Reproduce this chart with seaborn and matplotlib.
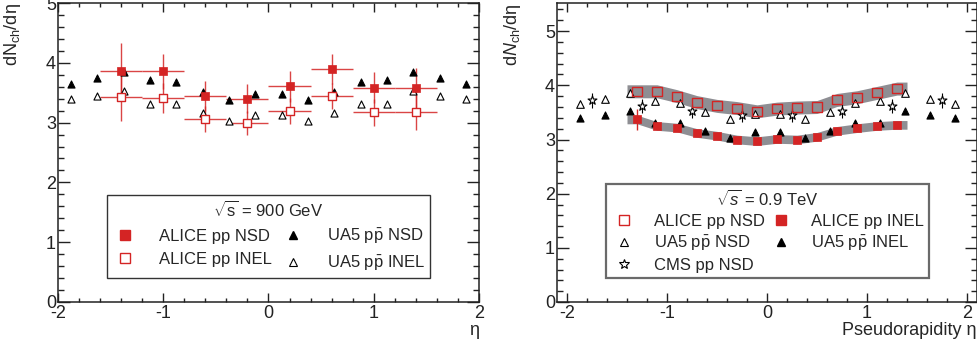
import numpy as np
import pandas as pd
import matplotlib
matplotlib.use("Agg")
import matplotlib.pyplot as plt
import seaborn as sns
from matplotlib.ticker import MultipleLocator
from matplotlib.lines import Line2D

# dados lidos da figura
# painel esquerdo: ALICE 900 GeV (bins de 0.4)
eta_alice_l = [-1.4, -1.0, -0.6, -0.2, 0.2, 0.6, 1.0, 1.4]
alice_nsd_l = [3.87, 3.86, 3.45, 3.40, 3.61, 3.90, 3.58, 3.58]
alice_nsd_l_err = [0.46, 0.29, 0.25, 0.24, 0.26, 0.25, 0.26, 0.33]
alice_inel_l = [3.42, 3.41, 3.06, 3.00, 3.19, 3.44, 3.17, 3.17]
alice_inel_l_err = [0.40, 0.25, 0.22, 0.20, 0.22, 0.22, 0.23, 0.29]

# UA5 (mesmos pontos nos dois painéis)
eta_ua5 = [-1.875, -1.625, -1.375, -1.125, -0.875, -0.625, -0.375, -0.125,
           0.125, 0.375, 0.625, 0.875, 1.125, 1.375, 1.625, 1.875]
ua5_nsd = [3.65, 3.74, 3.85, 3.71, 3.68, 3.51, 3.37, 3.47,
           3.47, 3.37, 3.51, 3.68, 3.71, 3.85, 3.74, 3.65]
ua5_inel = [3.40, 3.45, 3.53, 3.31, 3.31, 3.16, 3.03, 3.13,
            3.13, 3.03, 3.16, 3.31, 3.31, 3.53, 3.45, 3.40]

# painel direito: ALICE 0.9 TeV (bins de 0.2)
eta_alice_r = [-1.3, -1.1, -0.9, -0.7, -0.5, -0.3, -0.1, 0.1, 0.3, 0.5, 0.7, 0.9, 1.1, 1.3]
alice_nsd_r = [3.89, 3.89, 3.80, 3.69, 3.62, 3.58, 3.52, 3.57, 3.59, 3.60, 3.73, 3.78, 3.86, 3.94]
alice_inel_r = [3.37, 3.25, 3.22, 3.12, 3.07, 3.00, 2.97, 3.01, 3.00, 3.05, 3.16, 3.21, 3.25, 3.27]
alice_nsd_sys = 0.12
alice_inel_sys = 0.08
alice_inel_r_err = [0.19] + [0.0] * 13

# CMS
eta_cms = [-1.75, -1.25, -0.75, -0.25, 0.25, 0.75, 1.25, 1.75]
cms_nsd = [3.72, 3.61, 3.53, 3.46, 3.46, 3.53, 3.61, 3.72]
cms_err = [0.13, 0.13, 0.13, 0.13, 0.13, 0.13, 0.13, 0.13]

RED = '#d42424'
GRAY = '#8e8e93'

sns.set_style("ticks")
plt.rcParams['font.family'] = ['Liberation Sans', 'DejaVu Sans']
plt.rcParams['mathtext.fontset'] = 'custom'
plt.rcParams['mathtext.rm'] = 'Liberation Sans'
plt.rcParams['mathtext.it'] = 'Liberation Sans:italic'
plt.rcParams['mathtext.sf'] = 'Liberation Sans'
plt.rcParams['axes.unicode_minus'] = False

fig = plt.figure(figsize=(9.78, 3.45), dpi=100)
ax1 = fig.add_axes([58/978, 1-302/345, 421/978, 299/345])
ax2 = fig.add_axes([557/978, 1-302/345, 420/978, 299/345])


def estilo_root(ax, xlim, ymax):
    ax.set_xlim(*xlim)
    ax.set_ylim(0, ymax)
    ax.xaxis.set_major_locator(MultipleLocator(1))
    ax.xaxis.set_minor_locator(MultipleLocator(0.2))
    ax.yaxis.set_major_locator(MultipleLocator(1))
    ax.yaxis.set_minor_locator(MultipleLocator(0.2))
    ax.tick_params(which='both', direction='in', top=True, right=True, width=1.0,
                   labelsize=13, colors='#222222')
    ax.tick_params(axis='x', which='major', length=6.5, pad=2)
    ax.tick_params(axis='x', which='minor', length=3)
    ax.tick_params(axis='y', which='major', length=8.5, pad=1.5)
    ax.tick_params(axis='y', which='minor', length=4.3)
    for s in ax.spines.values():
        s.set_linewidth(1.1)
        s.set_color('#222222')
    ax.set_facecolor('white')
    ax.set_xlabel('')
    ax.set_ylabel('')


def tri(ax, x, y, filled, s=26):
    df = pd.DataFrame({'eta': x, 'dn': y})
    sns.scatterplot(data=df, x='eta', y='dn', marker='^', s=s, ax=ax,
                    facecolor='black' if filled else 'white',
                    edgecolor='black', linewidth=0.8, zorder=4, legend=False)


# ---- painel esquerdo
ax1.errorbar(eta_alice_l, alice_nsd_l, xerr=0.2, yerr=alice_nsd_l_err, fmt='none',
             ecolor=RED, elinewidth=1.0, alpha=0.85, zorder=2)
ax1.errorbar(eta_alice_l, alice_inel_l, xerr=0.2, yerr=alice_inel_l_err, fmt='none',
             ecolor=RED, elinewidth=1.0, alpha=0.85, zorder=2)
tri(ax1, eta_ua5, ua5_nsd, True)
tri(ax1, eta_ua5, ua5_inel, False)
sns.scatterplot(x=eta_alice_l, y=alice_nsd_l, marker='s', s=40, color=RED,
                edgecolor=RED, linewidth=0.5, ax=ax1, zorder=5)
sns.scatterplot(x=eta_alice_l, y=alice_inel_l, marker='s', s=40, facecolor='white',
                edgecolor=RED, linewidth=1.0, ax=ax1, zorder=5)
estilo_root(ax1, (-2, 2), 5)

h1 = [Line2D([], [], ls='none', marker='s', ms=6.5, mfc=RED, mec=RED),
      Line2D([], [], ls='none', marker='s', ms=6.5, mfc='white', mec=RED, mew=1.0),
      Line2D([], [], ls='none', marker='^', ms=5.5, mfc='black', mec='black'),
      Line2D([], [], ls='none', marker='^', ms=5.5, mfc='white', mec='black', mew=0.8)]
l1 = ['ALICE pp NSD', 'ALICE pp INEL', 'UA5 p$\\bar{\\mathrm{p}}$ NSD', 'UA5 p$\\bar{\\mathrm{p}}$ INEL']
leg = ax1.legend(h1, l1, ncol=2, loc='lower left', mode='expand',
                 bbox_to_anchor=(0.1164, 0.0803, 0.7672, 0.2374),
                 title='$\\sqrt{\\mathrm{s}}$ = 900 GeV', fontsize=12, title_fontsize=12,
                 frameon=True, fancybox=False, edgecolor='#333333', framealpha=1,
                 handlelength=1.6, handletextpad=1.2, columnspacing=2.0,
                 labelspacing=0.45, borderpad=0.3, borderaxespad=0)
leg.get_frame().set_linewidth(1.0)

ax1.set_ylabel('dN$_{\\mathrm{ch}}$/dη', fontsize=13, loc='top')
ax1.yaxis.set_label_coords(-0.083, 1.0)
ax1.set_xlabel('η', fontsize=13, loc='right')
ax1.xaxis.set_label_coords(1.0, -0.068)
ax1.xaxis.label.set_va('top')

# ---- painel direito
# bandas de sistemático
x_band = [-1.4] + eta_alice_r + [1.4]
nsd_band = np.array([alice_nsd_r[0]] + alice_nsd_r + [alice_nsd_r[-1]])
inel_band = np.array([alice_inel_r[0]] + alice_inel_r + [alice_inel_r[-1]])
ax2.fill_between(x_band, nsd_band - alice_nsd_sys, nsd_band + alice_nsd_sys,
                 color=GRAY, lw=0, zorder=1)
ax2.fill_between(x_band, inel_band - alice_inel_sys, inel_band + alice_inel_sys,
                 color=GRAY, lw=0, zorder=1)

ax2.errorbar(eta_alice_r, alice_inel_r, yerr=alice_inel_r_err, fmt='none',
             ecolor=RED, elinewidth=1.0, zorder=2)
ax2.errorbar(eta_cms, cms_nsd, yerr=cms_err, fmt='none', ecolor='black',
             elinewidth=0.8, zorder=2)
tri(ax2, eta_ua5, ua5_nsd, False, s=30)
tri(ax2, eta_ua5, ua5_inel, True, s=26)
sns.scatterplot(x=eta_cms, y=cms_nsd, marker='*', s=45, facecolor='white',
                edgecolor='black', linewidth=0.8, ax=ax2, zorder=4)
sns.scatterplot(x=eta_alice_r, y=alice_nsd_r, marker='s', s=42, facecolor='none',
                edgecolor=RED, linewidth=1.0, ax=ax2, zorder=5)
sns.scatterplot(x=eta_alice_r, y=alice_inel_r, marker='s', s=36, color=RED,
                edgecolor=RED, linewidth=0.5, ax=ax2, zorder=5)
estilo_root(ax2, (-2.1, 2.1), 5.52)

h2 = [Line2D([], [], ls='none', marker='s', ms=6.5, mfc='white', mec=RED, mew=1.0),
      Line2D([], [], ls='none', marker='^', ms=5.5, mfc='white', mec='black', mew=0.8),
      Line2D([], [], ls='none', marker='*', ms=7, mfc='white', mec='black', mew=0.8),
      Line2D([], [], ls='none', marker='s', ms=6.5, mfc=RED, mec=RED),
      Line2D([], [], ls='none', marker='^', ms=5.5, mfc='black', mec='black')]
l2 = ['ALICE pp NSD', 'UA5 p$\\bar{\\mathrm{p}}$ NSD', 'CMS pp NSD',
      'ALICE pp INEL', 'UA5 p$\\bar{\\mathrm{p}}$ INEL']
leg2 = ax2.legend(h2, l2, ncol=2, loc='lower left', mode='expand',
                  bbox_to_anchor=(0.1167, 0.080, 0.769, 0.305),
                  title='$\\sqrt{s}$ = 0.9 TeV', fontsize=12, title_fontsize=12,
                  frameon=True, fancybox=False, edgecolor='#6a6a6a', framealpha=1,
                  handlelength=1.6, handletextpad=1.0, columnspacing=2.0,
                  labelspacing=0.3, borderpad=0.3, borderaxespad=0)
leg2.get_frame().set_linewidth(1.6)

ax2.set_ylabel('d$N_{\\mathrm{ch}}$/dη', fontsize=13, loc='top')
ax2.yaxis.set_label_coords(-0.081, 1.0)
ax2.set_xlabel('Pseudorapidity η', fontsize=13, loc='right')
ax2.xaxis.set_label_coords(1.0, -0.068)
ax2.xaxis.label.set_va('top')

fig.savefig('out.png', dpi=100, facecolor='white')
